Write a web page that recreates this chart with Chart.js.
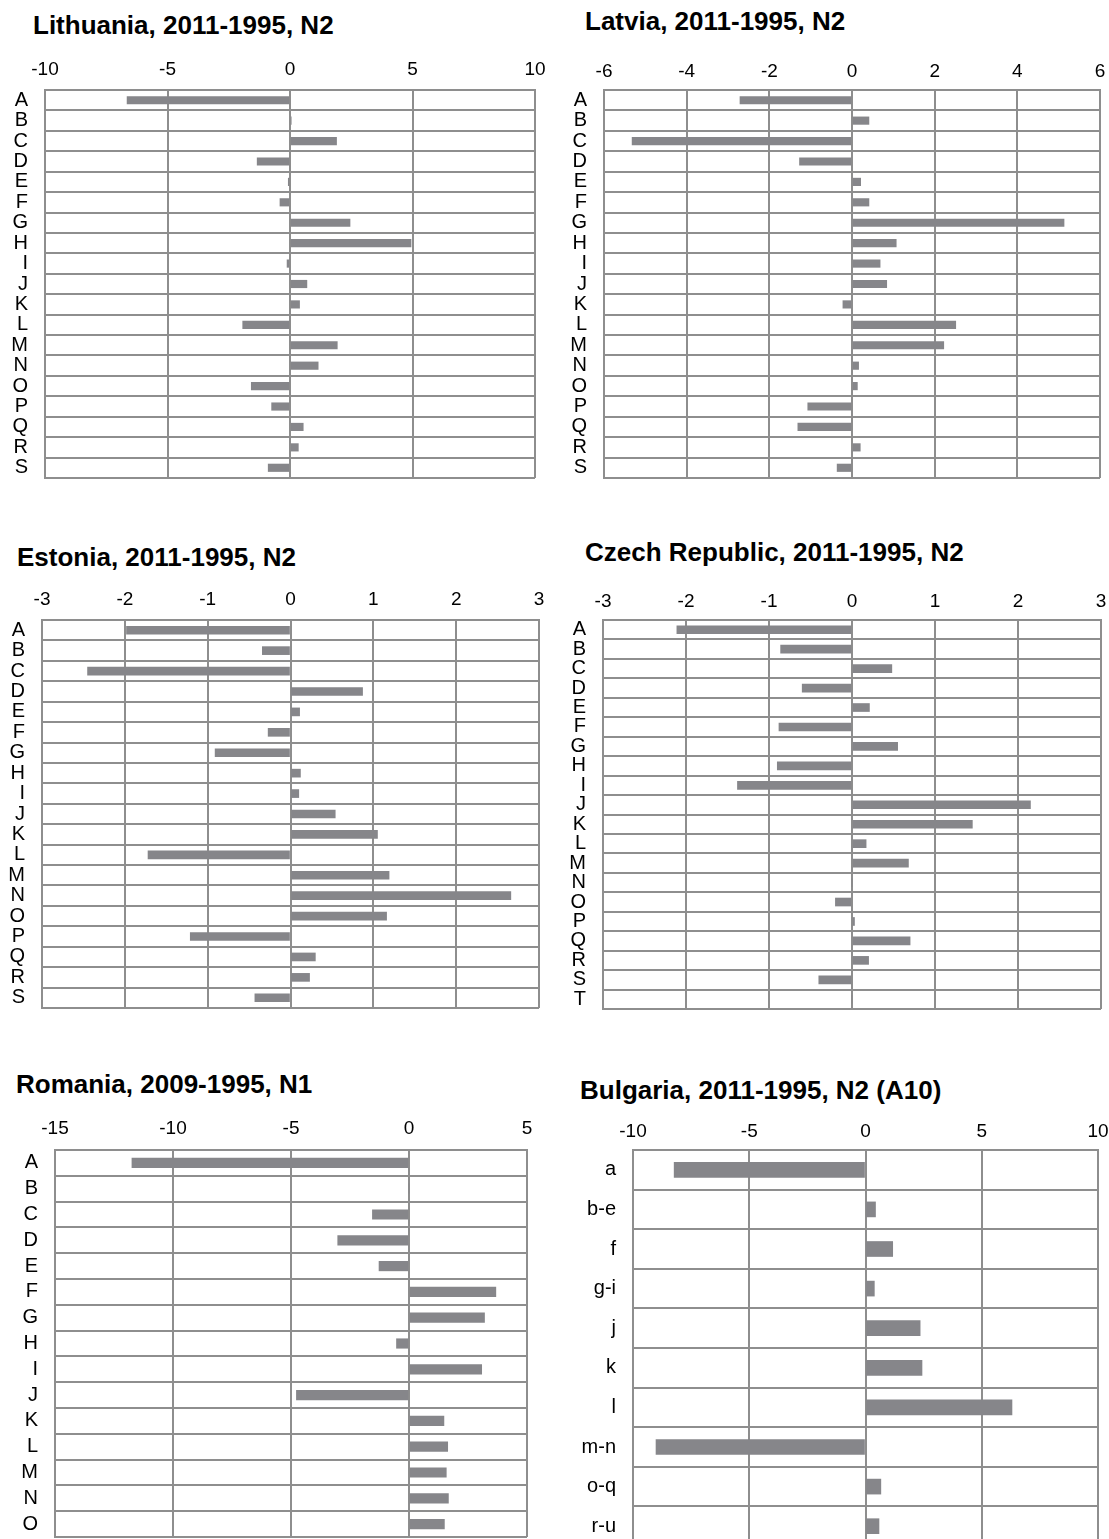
<!DOCTYPE html>
<html><head><meta charset="utf-8">
<script src="https://cdn.jsdelivr.net/npm/chart.js@4/dist/chart.umd.min.js"></script>
<style>
html,body{margin:0;padding:0;background:#fff;width:1109px;height:1539px;overflow:hidden;position:relative;}
.title{position:absolute;font-family:'Liberation Sans',Arial,sans-serif;font-weight:bold;font-size:26px;line-height:26px;color:#000;white-space:nowrap;}
canvas{position:absolute;}
</style></head><body>
<script>
// ---------- DATA ----------
const lithuaniaTitle = 'Lithuania, 2011-1995, N2';
const lithuaniaLabels = ['A','B','C','D','E','F','G','H','I','J','K','L','M','N','O','P','Q','R','S'];
const lithuaniaValues = [-6.65, 0.05, 1.90, -1.34, -0.07, -0.41, 2.45, 4.94, -0.12, 0.69, 0.39, -1.93, 1.93, 1.15, -1.58, -0.75, 0.54, 0.34, -0.89];
const lithuaniaRange = [-10, 10, 5];

const latviaTitle = 'Latvia, 2011-1995, N2';
const latviaLabels = ['A','B','C','D','E','F','G','H','I','J','K','L','M','N','O','P','Q','R','S'];
const latviaValues = [-2.71, 0.41, -5.32, -1.27, 0.21, 0.41, 5.13, 1.07, 0.68, 0.84, -0.22, 2.51, 2.22, 0.16, 0.13, -1.07, -1.31, 0.20, -0.36];
const latviaRange = [-6, 6, 2];

const estoniaTitle = 'Estonia, 2011-1995, N2';
const estoniaLabels = ['A','B','C','D','E','F','G','H','I','J','K','L','M','N','O','P','Q','R','S'];
const estoniaValues = [-1.98, -0.34, -2.45, 0.87, 0.11, -0.27, -0.91, 0.12, 0.10, 0.54, 1.05, -1.72, 1.19, 2.66, 1.16, -1.21, 0.30, 0.23, -0.43];
const estoniaRange = [-3, 3, 1];

const czechTitle = 'Czech Republic, 2011-1995, N2';
const czechLabels = ['A','B','C','D','E','F','G','H','I','J','K','L','M','N','O','P','Q','R','S','T'];
const czechValues = [-2.11, -0.86, 0.48, -0.60, 0.21, -0.88, 0.55, -0.90, -1.38, 2.15, 1.45, 0.17, 0.68, 0, -0.20, 0.03, 0.70, 0.20, -0.40, 0];
const czechRange = [-3, 3, 1];

const romaniaTitle = 'Romania, 2009-1995, N1';
const romaniaLabels = ['A','B','C','D','E','F','G','H','I','J','K','L','M','N','O'];
const romaniaValues = [-11.74, 0, -1.55, -3.02, -1.27, 3.68, 3.20, -0.53, 3.08, -4.77, 1.48, 1.64, 1.58, 1.67, 1.50];
const romaniaRange = [-15, 5, 5];

const bulgariaTitle = 'Bulgaria, 2011-1995, N2 (A10)';
const bulgariaLabels = ['a','b-e','f','g-i','j','k','l','m-n','o-q','r-u'];
const bulgariaValues = [-8.23, 0.43, 1.17, 0.38, 2.35, 2.43, 6.30, -9.01, 0.66, 0.58];
const bulgariaRange = [-10, 10, 5];

// ---------- STYLE / LAYOUT ----------
const BAR = '#86868a';
const GRID = '#8e8e8e';
const FONT = "'Liberation Sans', Arial, sans-serif";

function addTitle(text, left, top) {
  const d = document.createElement('div');
  d.className = 'title';
  d.textContent = text;
  d.style.left = left + 'px';
  d.style.top = top + 'px';
  document.body.appendChild(d);
}

function makeChart(labels, values, range, L) {
  const [bl, bt, br, bb] = L.box;
  const xH = 50, padR = 26, padB = 34;
  const yW = bl - L.canvasLeft;
  const cv = document.createElement('canvas');
  const w = br - L.canvasLeft + padR;
  const h = bb - (bt - xH) + padB;
  cv.width = w; cv.height = h;
  cv.style.left = L.canvasLeft + 'px';
  cv.style.top = (bt - xH) + 'px';
  cv.style.width = w + 'px';
  cv.style.height = h + 'px';
  document.body.appendChild(cv);
  new Chart(cv, {
    type: 'bar',
    data: {
      labels: labels,
      datasets: [{ data: values, backgroundColor: BAR, borderWidth: 0, barThickness: L.bar }]
    },
    options: {
      indexAxis: 'y',
      responsive: false,
      animation: false,
      devicePixelRatio: 1,
      layout: { padding: { left: 0, top: 0, right: padR, bottom: padB } },
      plugins: { legend: { display: false }, tooltip: { enabled: false }, title: { display: false } },
      scales: {
        x: {
          position: 'top', min: range[0], max: range[1],
          ticks: { stepSize: range[2], color: '#000', font: { family: FONT, size: 19 }, padding: L.tickPad, maxRotation: 0, autoSkip: false },
          grid: { color: GRID, lineWidth: 2, drawTicks: false },
          border: { display: true, color: GRID, width: 2 },
          afterFit: s => { s.height = xH; }
        },
        y: {
          ticks: { color: '#000', font: { family: FONT, size: 20 }, padding: 17, autoSkip: false },
          grid: { color: GRID, lineWidth: 2, drawTicks: false, offset: true },
          border: { display: true, color: GRID, width: 2 },
          afterFit: s => { s.width = yW; }
        }
      }
    }
  });
}

addTitle(lithuaniaTitle, 33, 12);
makeChart(lithuaniaLabels, lithuaniaValues, lithuaniaRange, { canvasLeft: 0, box: [45, 90, 535, 478], bar: 7.5, tickPad: 9 });

addTitle(latviaTitle, 585, 8);
makeChart(latviaLabels, latviaValues, latviaRange, { canvasLeft: 560, box: [604, 90, 1100, 478], bar: 7.5, tickPad: 7 });

addTitle(estoniaTitle, 17, 544);
makeChart(estoniaLabels, estoniaValues, estoniaRange, { canvasLeft: 0, box: [42, 620, 539, 1008], bar: 8, tickPad: 9 });

addTitle(czechTitle, 585, 539);
makeChart(czechLabels, czechValues, czechRange, { canvasLeft: 560, box: [603, 620, 1101, 1009], bar: 8, tickPad: 7 });

addTitle(romaniaTitle, 16, 1071);
makeChart(romaniaLabels, romaniaValues, romaniaRange, { canvasLeft: 0, box: [55, 1150, 527, 1537], bar: 9.5, tickPad: 10 });

addTitle(bulgariaTitle, 580, 1077);
makeChart(bulgariaLabels, bulgariaValues, bulgariaRange, { canvasLeft: 560, box: [633, 1150, 1098, 1546], bar: 15, tickPad: 7 });
</script>
</body></html>
